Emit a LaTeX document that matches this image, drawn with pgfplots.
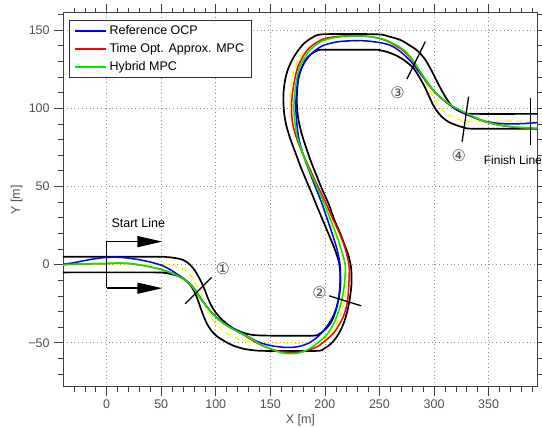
\documentclass[border=0pt]{standalone}
\usepackage{fontspec}
\setmainfont{Liberation Sans}
\newfontfamily\djv{DejaVu Sans}
\usepackage{pgfplots}
\pgfplotsset{compat=1.18}
\usetikzlibrary{arrows.meta}
\definecolor{tickgray}{RGB}{80,80,80}
\definecolor{mygreen}{RGB}{0,235,0}
\definecolor{myyellow}{RGB}{255,255,0}
\begin{document}
\fontsize{12.5bp}{15bp}\selectfont
\begin{tikzpicture}
\useasboundingbox (-63bp,-40.3bp) rectangle (479bp,386.7bp);
\begin{axis}[
  at={(0,0)}, anchor=south west,
  scale only axis, width=474.7bp, height=374bp,
  xmin=-40, xmax=395, ymin=-78.1, ymax=161.1,
  clip=false,
  xtick={0,50,100,150,200,250,300,350},
  xticklabels={0,50,100,150,200,250,300,350},
  minor xtick={-30,-20,-10,10,20,30,40,60,70,80,90,110,120,130,140,160,170,180,190,210,220,230,240,260,270,280,290,310,320,330,340,360,370,380,390},
  ytick={-50,0,50,100,150},
  yticklabels={−50,0,50,100,150},
  minor ytick={-70,-60,-40,-30,-20,-10,10,20,30,40,60,70,80,90,110,120,130,140,160},
  tick align=outside,
  major tick length=9bp, minor tick length=5bp,
  tick style={black!75, line width=0.6bp},
  axis line style={black!75, line width=0.8bp},
  xmajorgrids, ymajorgrids,
  grid style={black!45, line width=0.7bp, dash pattern=on 0.8bp off 3bp},
  tick label style={text=tickgray},
  every axis x label/.style={at={([yshift=-33.3bp]axis description cs:0.5,0)}, anchor=center, text=tickgray},
  every axis y label/.style={at={([xshift=-46.3bp]axis description cs:0,0.5)}, anchor=center, rotate=90, text=tickgray},
  xlabel={X [m]}, ylabel={Y [m]},
  legend cell align=left,
  legend style={at={(axis description cs:0,1)}, anchor=north west, xshift=6.3bp, yshift=-7.3bp,
    draw=black!80, line width=0.8bp, inner xsep=4.6bp, inner ysep=1.5bp,
    nodes={inner sep=2.75bp, text height=0.75em, text depth=0.25em}},
  legend image code/.code={\draw[#1] (0bp,0bp) -- (31bp,0bp);},
]
% centre line
\addplot[myyellow, line width=1.4bp, dash pattern=on 6bp off 4bp, smooth, forget plot] coordinates {
(-40,0)(50,0)(58,-0.4)(64,-1.4)(70,-3)(76,-6)(80.5,-10.5)(84,-15.5)(88,-22.3)(92,-29)(96,-34.2)(101,-38.6)(108,-42.8)(116,-46.3)(124,-48.4)(132,-49.7)(145,-50.3)(190,-50.4)(197,-49.2)(203,-46.3)(208,-42)(212,-36.5)(215.5,-29.5)(218,-21.5)(219.4,-12)(219.3,-5)(218.3,0)(214.1,10)(208.5,20)(202.5,30)(196.8,40)(190.8,50)(185,60)(179.5,70)(174.5,80)(170.8,90)(168.5,100)(168.2,110)(170.1,120)(172.5,125.5)(176,131)(181,136)(187.5,139.8)(198.7,142.3)(246,142.3)(254.5,141.5)(262,139.8)(270,137)(277,133)(283,128)(288,122.5)(292.8,116)(297.5,109.5)(302,104)(307,99.5)(312.5,96)(319,93.5)(326,92.1)(335,91.6)(395,91.6)};
% track boundaries
\addplot[black, line width=1.7bp, smooth, forget plot] coordinates {
(-40,5)(45,5)(55,4.8)(63,4.2)(70,3)(75,0.8)(79.5,-2.5)(84,-7.5)(88.6,-14)(92,-20)(95,-25)(99,-29.8)(104,-34)(110,-37.8)(116,-40.8)(124,-43.3)(132,-44.8)(145,-45.4)(188,-45.5)(195,-44.3)(201,-41)(206,-36.5)(209.5,-30.5)(212.3,-23)(214,-15)(214.2,-7.5)(213,1)(209.5,9)(205.5,16)(201,23.5)(196.5,31)(192,38.5)(188,45.5)(182.5,54.5)(177.5,63)(172.5,72.5)(168.5,80)(165,88)(163,95)(162,103)(162.2,111)(163.8,119)(166.5,125.5)(170.5,131.5)(175.5,137)(181,141.5)(188,145)(198.7,147.3)(247,147.3)(258,146)(269,143.7)(277,140.5)(284.4,137)(291,132)(296.6,125.6)(301,119.5)(305.8,113)(310,107.8)(315,102.5)(320,99.3)(327.2,97)(335,96.4)(395,96.4)};
\addplot[black, line width=1.7bp, smooth, forget plot] coordinates {
(-40,-5)(45,-5)(52,-5.3)(58,-5.9)(64,-7)(70,-9)(76,-12.5)(80.5,-17.5)(84,-23.5)(87.5,-30.5)(91.7,-37.5)(96,-42.3)(101,-45.8)(108,-49)(116,-51.8)(124,-53.6)(132,-54.6)(145,-55.2)(192,-55.2)(199,-53.8)(204.9,-51)(210,-47)(214.5,-41.8)(218,-36)(220.8,-29)(223,-21)(224.4,-12)(224,-2)(221.5,6)(218.6,11.5)(214,20)(209,28)(203.3,39)(197.5,48)(192.7,56.3)(188,64.5)(183.5,73.3)(179,83)(175.8,92.5)(174.4,101)(174.4,109.6)(175.5,118)(178,124.5)(182,130.5)(187,134.5)(193,136.8)(199,137.4)(245,137.4)(251,137)(258,135.8)(266,133.5)(274,130)(281.3,125.5)(286,120.5)(290.5,115)(295,108.3)(299.6,101.5)(304,97)(308.8,93.5)(314,91)(321,89)(328,87.6)(336.3,86.9)(395,86.8)};
% trajectories
\addplot[blue, line width=1.5bp, smooth] coordinates {
(-40,0.2)(-30,1.2)(-20,2.6)(-10,3.8)(0,4.6)(10,4.7)(20,4.1)(30,3.1)(40,1.6)(50,-0.4)(58,-3.1)(64,-5.8)(70,-8.6)(76,-12)(80.5,-15.6)(84,-19.2)(88,-23.3)(92,-27)(96,-30.4)(101,-33.9)(108,-37.8)(115,-40.8)(122,-43)(130,-46.2)(138,-49.2)(150,-51.8)(165,-53)(176,-52.4)(185,-50.3)(192,-47)(198,-43)(203,-38.3)(207.5,-33)(210.5,-27.5)(212.5,-22)(213.6,-15)(214,-8)(213.9,0)(211,10)(206.6,20)(201.7,30)(196.8,40)(191.1,50)(185.6,60)(180.3,70)(176.3,80)(174.3,90)(173.4,100)(173.9,110)(175.7,120)(178.5,125.5)(182.3,130.3)(188.5,135.5)(198,140)(211,142.4)(225,143.2)(237,143.1)(249,142.1)(259.9,140.3)(269,136.3)(278,130.5)(286,123.5)(294,116)(301,110.3)(308,105.7)(316,101.3)(324,97.9)(332,95.3)(340,93.1)(348.6,91.4)(358,90.4)(367,90)(380,90.1)(395,90.8)};
\addlegendentry{Reference OCP}
\addplot[red, line width=1.5bp, smooth] coordinates {
(-40,0)(-30,0.2)(-20,0.4)(-10,0.6)(0,0.7)(10,0.9)(20,0.7)(28,0)(35,-0.8)(42,-1.8)(50,-3.1)(58,-5)(64,-6.8)(70,-9)(76,-12.3)(80.5,-16)(84,-19.6)(88,-23.6)(92,-27.2)(96,-30.7)(101,-34.2)(108,-38)(115,-41)(122,-43.6)(128,-46)(134,-48.6)(142,-51.6)(152.8,-54.5)(160,-55.6)(168.2,-56.2)(180,-55.6)(192.7,-52.6)(201,-48.3)(207.9,-43.9)(213,-38.5)(217,-33.2)(219.5,-27.5)(220.8,-22.6)(221.8,-15)(222.3,-6)(222,0)(218.7,10)(213.4,20)(206.7,30)(200.5,40)(193.6,50)(187,60)(180.3,70)(174.5,80)(170.5,90)(169.4,100)(170.3,110)(172.8,120)(175,126)(179,132)(183.5,136.8)(190,141)(198.7,144.3)(208,145.6)(217,146.2)(230,146.3)(241.6,145.8)(252,144.2)(260,142)(266,139.6)(272,136.8)(279,131.8)(286,124.6)(293.6,116.6)(300,110.7)(306,106.7)(312,103.5)(318,100.8)(324,98.6)(330.3,96.4)(340,93.2)(348.6,91)(358,89.4)(370,88.1)(382,87.4)(395,87.1)};
\addlegendentry{Time Opt. Approx. MPC}
\addplot[mygreen, line width=1.5bp, smooth] coordinates {
(-40,0)(-30,0.2)(-20,0.4)(-10,0.6)(0,0.7)(10,0.9)(20,0.7)(28,0)(35,-0.8)(42,-1.8)(50,-3.1)(58,-5)(64,-6.8)(70,-9)(76,-12.3)(80.5,-16)(84,-19.6)(88,-23.6)(92,-27.2)(96,-30.7)(101,-34.2)(108,-38)(115,-41)(122,-43.5)(128,-45.6)(134,-48)(142,-51.4)(150,-53.8)(159,-56.2)(168,-57)(176,-56.5)(184,-54.5)(191,-51.5)(197,-48)(201.8,-45)(206,-40.5)(209.5,-35.5)(212.5,-30)(214.8,-24.5)(216.8,-18)(218.2,-10)(218.6,0)(214.9,10)(210.1,20)(204.4,30)(198.8,40)(192.5,50)(186.1,60)(180.3,70)(175.4,80)(172.7,90)(171.6,100)(172.4,110)(174.5,120)(176.5,125.5)(180.4,130.9)(184.5,135.5)(190,139.5)(196.5,142.6)(204.9,144.6)(216,145.8)(229.4,146.2)(242,145.7)(253.8,144.1)(263,141.3)(272,137.5)(279,132.3)(286,125)(293.6,117)(300,111)(306,107)(312,103.8)(318,101)(324,98.8)(330.3,96.6)(340,93.4)(348.6,91.2)(358,89.6)(370,88.3)(382,87.6)(395,87.2)};
\addlegendentry{Hybrid MPC}
% start line and arrows
\addplot[black, line width=1.5bp, -{Triangle[length=25bp,width=11bp]}, forget plot] coordinates {(0,-15.1)(0,14.7)(51,14.7)};
\addplot[black, line width=1.5bp, -{Triangle[length=25bp,width=11bp]}, forget plot] coordinates {(0,-15.1)(51,-15.1)};
% sector markers
\addplot[black, line width=1.3bp, forget plot] coordinates {(72,-25.1)(96.3,-8.1)};
\addplot[black, line width=1.3bp, forget plot] coordinates {(204,-20)(233.3,-26.4)};
\addplot[black, line width=1.3bp, forget plot] coordinates {(292,142.6)(275.2,118.7)};
\addplot[black, line width=1.3bp, forget plot] coordinates {(331.7,107.4)(325.7,78.6)};
\addplot[black, line width=1.3bp, forget plot] coordinates {(388.3,106.4)(388.3,76.5)};
\node at (axis cs:29,26.5) {Start Line};
\node[anchor=west, inner sep=0pt, font=\fontsize{12bp}{14bp}\selectfont] at (axis cs:345.5,66.5) {Finish Line};
\node[text=tickgray, font=\fontsize{16bp}{18bp}\selectfont\djv] at (axis cs:106.4,-2.7) {①};
\node[text=tickgray, font=\fontsize{16bp}{18bp}\selectfont\djv] at (axis cs:195,-17.7) {②};
\node[text=tickgray, font=\fontsize{16bp}{18bp}\selectfont\djv] at (axis cs:266.6,110.2) {③};
\node[text=tickgray, font=\fontsize{16bp}{18bp}\selectfont\djv] at (axis cs:322.6,69.5) {④};
\end{axis}
\end{tikzpicture}
\end{document}
